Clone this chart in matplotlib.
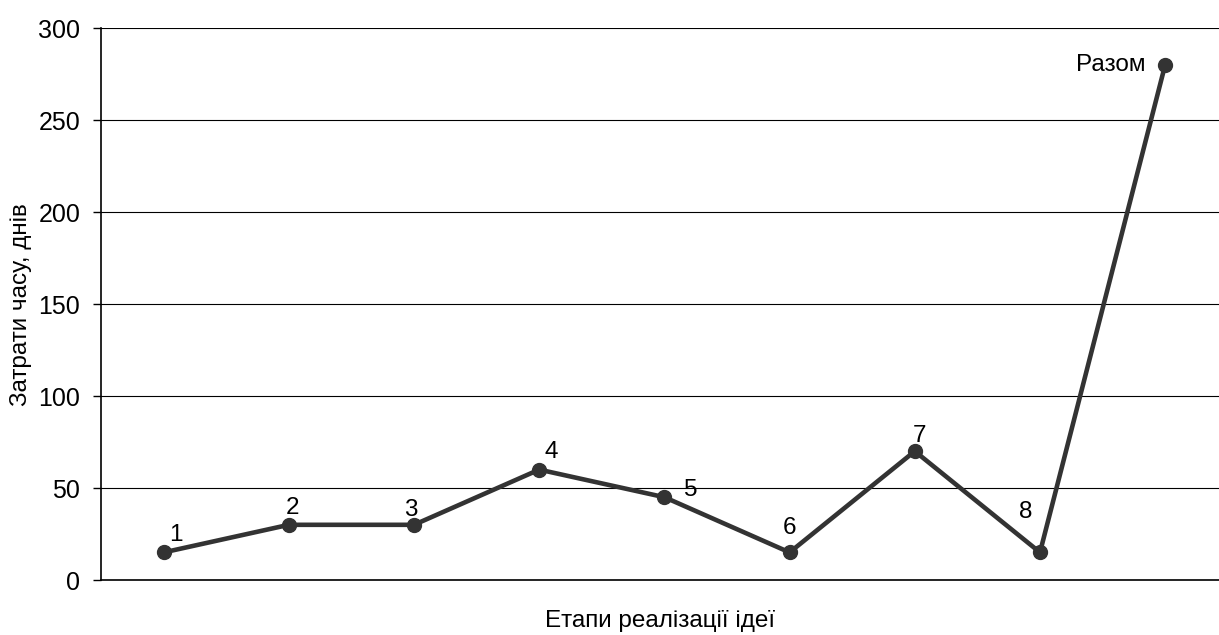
import matplotlib
matplotlib.use('Agg')
import matplotlib.pyplot as plt

plt.rcParams['font.family'] = ['Liberation Sans', 'DejaVu Sans']

# етапи реалізації та затрати часу
stages = ['1', '2', '3', '4', '5', '6', '7', '8', 'Разом']
days = [15, 30, 30, 60, 45, 15, 70, 15, 280]

# зміщення підписів точок, пікселі
label_dx = [12, 4, -3, 12, 26, 0, 5, -14, -20]
label_dy = [17, 17, 15, 18, 7, 24, 15, 40, 0]

fig = plt.figure(figsize=(12.19, 6.35), dpi=100)
ax = fig.add_axes([0.0829, 0.0866, 0.9171, 0.8693])

x = list(range(len(days)))
ax.plot(x, days, color='#333333', lw=3.3, marker='o', markersize=10, zorder=3)

for i, (name, val) in enumerate(zip(stages, days)):
    ha = 'right' if name == 'Разом' else 'center'
    ax.annotate(name, (i, val), xytext=(label_dx[i], label_dy[i]),
                textcoords='offset pixels', ha=ha, va='center', fontsize=17.5)

ax.set_xlim(-0.5, 8.43)
ax.set_ylim(0, 300)
ax.set_yticks([0, 50, 100, 150, 200, 250, 300])
ax.set_xticks([])
ax.yaxis.grid(True, color='black', lw=0.8)
ax.set_axisbelow(True)

for s in ['top', 'right']:
    ax.spines[s].set_visible(False)
ax.spines['left'].set_linewidth(1.2)
ax.spines['bottom'].set_linewidth(1.2)
ax.tick_params(axis='y', labelsize=18, length=6, width=1, pad=9)

# підписи осей
fig.text(21 / 1219, 1 - 305 / 635, 'Затрати часу, днів', rotation=90,
         ha='center', va='center', fontsize=17.5)
fig.text(660 / 1219, 1 - 621 / 635, 'Етапи реалізації ідеї',
         ha='center', va='center', fontsize=17.5)

fig.savefig('out.png', dpi=100)
